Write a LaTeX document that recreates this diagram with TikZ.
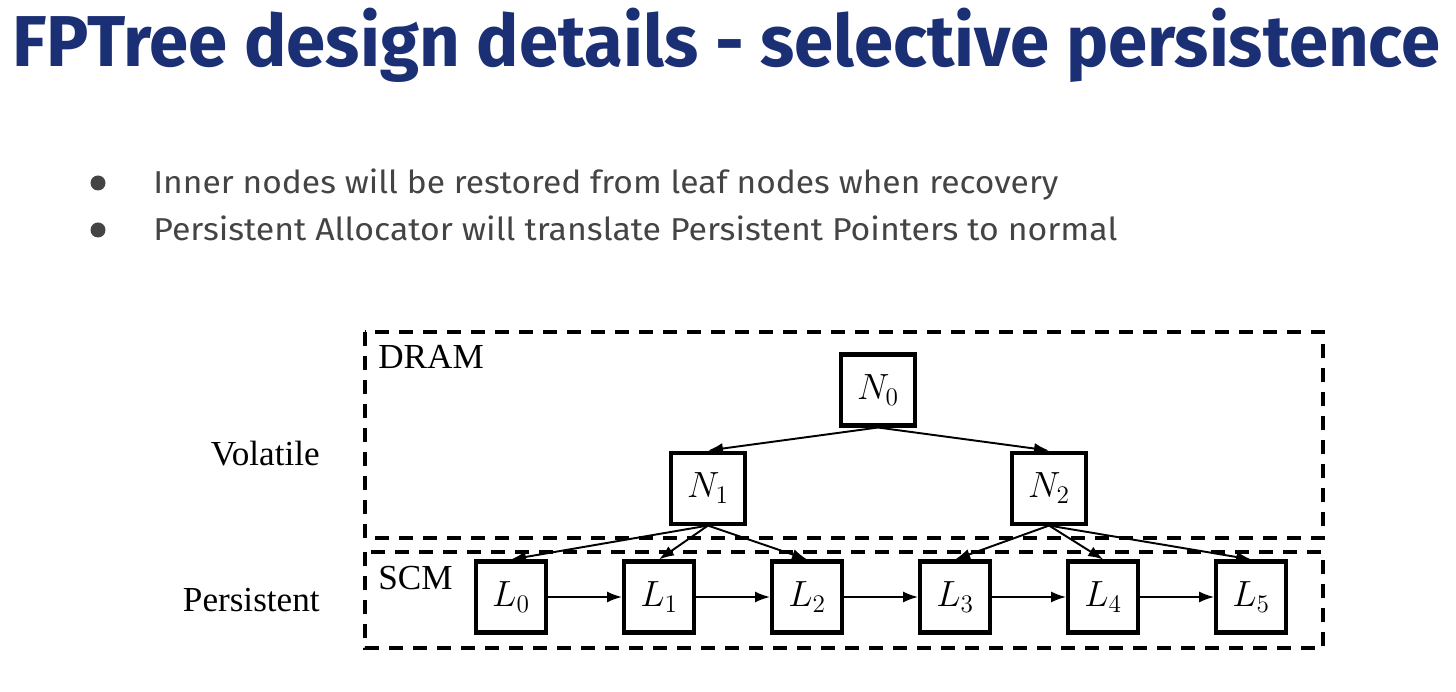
\documentclass[tikz,border=0pt]{standalone}
\usepackage{fontspec}
\setmainfont{Liberation Serif}
\newfontfamily\titlefont{Fira Sans}
\usepackage{tikz}
\usetikzlibrary{positioning,shapes,arrows.meta}
\definecolor{slideblue}{RGB}{27,47,117}
\definecolor{slidegray}{RGB}{68,68,68}

\begin{document}
\begin{tikzpicture}[node distance=1.48cm,
    nodebox/.style={draw,line width=2.3pt,minimum width=1.48cm,minimum height=1.42cm,inner sep=0pt,font=\fontsize{20}{24}\selectfont},
    leafbox/.style={draw,line width=2.3pt,minimum width=1.4cm,minimum height=1.42cm,inner sep=0pt,font=\fontsize{20}{24}\selectfont},
    region/.style={draw,line width=2.3pt,dash pattern=on 0.28cm off 0.2cm},
    link/.style={-{Latex[length=0.3cm,width=0.22cm]},line width=1.1pt},
    side/.style={font=\fontsize{20}{24}\selectfont}]
        \useasboundingbox (0,0) rectangle (29.12,-13.84);
        % title and bullets
        \node[anchor=base west,inner sep=0pt,text=slideblue,font=\titlefont\bfseries\fontsize{41}{48}\selectfont] (title) at (0.24,-1.34) {\resizebox{28.56cm}{\height}{FPTree design details - selective persistence}};
        \fill[slidegray] (1.96,-3.66) circle (0.15cm);
        \fill[slidegray] (1.96,-4.6) circle (0.15cm);
        \node[anchor=base west,inner sep=0pt,text=slidegray,font=\titlefont\fontsize{18}{21}\selectfont] (item1) at (3.06,-3.88) {\resizebox{18.1cm}{\height}{Inner nodes will be restored from leaf nodes when recovery}};
        \node[anchor=base west,inner sep=0pt,text=slidegray,font=\titlefont\fontsize{18}{21}\selectfont] (item2) at (3.06,-4.82) {\resizebox{19.28cm}{\height}{Persistent Allocator will translate Persistent Pointers to normal}};

        % memory regions
        \draw[region] (7.3,-6.64) rectangle (26.46,-10.76);
        \draw[region] (7.3,-11.04) rectangle (26.46,-12.96);
        \node[side,anchor=base west,inner sep=0pt] (dram) at (7.56,-7.38) {DRAM};
        \node[side,anchor=base west,inner sep=0pt] (scm) at (7.56,-11.8) {SCM};
        \node[side,anchor=base east,inner sep=0pt] (volatile) at (6.4,-9.32) {Volatile};
        \node[side,anchor=base east,inner sep=0pt] (persistent) at (6.4,-12.24) {Persistent};

        % inner nodes
        \node[nodebox] (n0) at (17.56,-7.8) {$N_0$};
        \node[nodebox,below left=0.46cm and 1.84cm of n0] (n1) {$N_1$};
        \node[nodebox,below right=0.46cm and 1.86cm of n0] (n2) {$N_2$};

        % leaf nodes
        \node[leafbox] (l0) at (10.22,-11.94) {$L_0$};
        \node[leafbox,right=of l0] (l1) {$L_1$};
        \node[leafbox,right=of l1] (l2) {$L_2$};
        \node[leafbox,right=of l2] (l3) {$L_3$};
        \node[leafbox,right=of l3] (l4) {$L_4$};
        \node[leafbox,right=of l4] (l5) {$L_5$};

        \draw[link] (n0.south) -- (n1.north);
        \draw[link] (n0.south) -- (n2.north);
        \foreach \leaf in {l0,l1,l2}
            \draw[link] (n1.south) -- (\leaf.north);
        \foreach \leaf in {l3,l4,l5}
            \draw[link] (n2.south) -- (\leaf.north);
        \draw[link] (l0) -- (l1);
        \draw[link] (l1) -- (l2);
        \draw[link] (l2) -- (l3);
        \draw[link] (l3) -- (l4);
        \draw[link] (l4) -- (l5);
    \end{tikzpicture}
\end{document}
